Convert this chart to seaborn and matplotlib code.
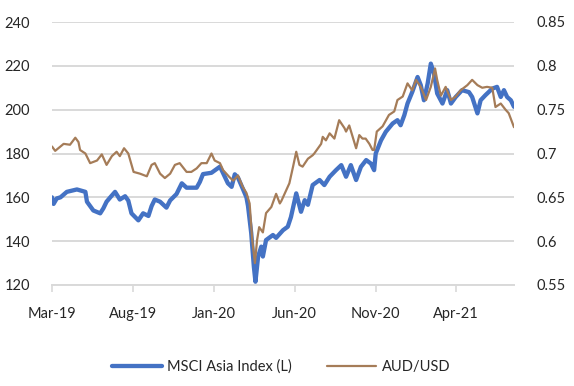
import matplotlib
matplotlib.use("Agg")
import matplotlib.pyplot as plt
import matplotlib.dates as mdates
from matplotlib.ticker import MultipleLocator, FuncFormatter
import pandas as pd
import seaborn as sns

# MSCI Asia Index (left axis)
msci_dates = [
    "2019-03-01", "2019-03-04", "2019-03-10", "2019-03-17", "2019-03-29", "2019-04-17", "2019-05-03",
    "2019-05-06", "2019-05-18", "2019-05-31", "2019-06-06", "2019-06-12", "2019-06-19",
    "2019-06-28", "2019-07-07", "2019-07-17", "2019-07-23", "2019-07-29", "2019-08-11",
    "2019-08-20", "2019-08-30", "2019-09-05", "2019-09-11", "2019-09-21", "2019-10-03",
    "2019-10-10", "2019-10-22", "2019-11-01", "2019-11-10", "2019-11-29", "2019-12-05",
    "2019-12-11", "2019-12-27", "2020-01-12", "2020-01-18", "2020-01-27", "2020-02-03",
    "2020-02-09", "2020-02-15", "2020-02-24", "2020-03-02", "2020-03-05", "2020-03-11",
    "2020-03-16", "2020-03-19", "2020-03-24", "2020-03-30", "2020-04-02", "2020-04-08",
    "2020-04-21", "2020-04-27", "2020-05-10", "2020-05-19", "2020-05-25", "2020-06-04",
    "2020-06-13", "2020-06-20", "2020-06-26", "2020-07-05", "2020-07-18", "2020-07-27",
    "2020-08-06", "2020-08-18", "2020-08-28", "2020-09-06", "2020-09-15", "2020-09-25",
    "2020-10-04", "2020-10-14", "2020-10-23", "2020-10-29", "2020-11-01", "2020-11-11",
    "2020-11-20", "2020-12-03", "2020-12-12", "2020-12-18", "2020-12-25", "2020-12-31",
    "2021-01-09", "2021-01-19", "2021-01-25", "2021-01-31", "2021-02-07", "2021-02-13",
    "2021-02-19", "2021-02-25", "2021-03-07", "2021-03-16", "2021-03-23", "2021-04-01",
    "2021-04-13", "2021-04-26", "2021-05-02", "2021-05-12", "2021-05-18", "2021-05-27",
    "2021-06-09", "2021-06-18", "2021-06-25", "2021-07-01", "2021-07-07", "2021-07-14",
    "2021-07-20",
]
msci_values = [
    160, 157, 159.5, 160, 162.5, 163.6, 162.5,
    158, 154, 152.7, 155, 158, 160,
    162.5, 159, 160.5, 158.5, 152.7, 149.5,
    152.7, 151.5, 156, 159, 158, 155.3,
    158.6, 161.5, 166.4, 164.4, 164.4, 167,
    170.6, 171.2, 174, 171, 166.4, 164.8,
    170.5, 169, 164, 160, 156, 143.7,
    128.4, 121.5, 133, 137.5, 133, 140.5,
    142.8, 141.5, 145, 146.6, 151, 161.8,
    153.4, 158.7, 156.6, 165.6, 167.9, 165.6,
    169.4, 172.4, 174.7, 169.4, 174.7, 167.9,
    173.9, 177, 175.4, 172.4, 180, 186,
    189.9, 193.7, 195.2, 192.9, 197.5, 202.8,
    208.1, 214.9, 211.2, 204.3, 211.9, 221,
    216.5, 207.4, 202.8, 208.9, 202.8, 205.8,
    208.9, 208, 205.8, 198.3, 204.3, 206.6,
    209.6, 210.4, 205.8, 208.9, 205.8, 204.3,
    201.3,
]

# AUD/USD (right axis)
aud_dates = [
    "2019-03-01", "2019-03-07", "2019-03-23", "2019-04-04", "2019-04-14", "2019-04-20",
    "2019-04-23", "2019-05-03", "2019-05-12", "2019-05-25", "2019-06-03", "2019-06-12",
    "2019-06-22", "2019-07-01", "2019-07-07", "2019-07-15", "2019-07-23", "2019-08-02",
    "2019-08-14", "2019-08-27", "2019-09-05", "2019-09-11", "2019-09-21", "2019-09-30",
    "2019-10-10", "2019-10-19", "2019-10-28", "2019-11-10", "2019-11-19", "2019-11-29",
    "2019-12-08", "2019-12-18", "2019-12-27", "2020-01-02", "2020-01-12", "2020-01-18",
    "2020-01-30", "2020-02-06", "2020-02-15", "2020-02-24", "2020-03-02", "2020-03-08",
    "2020-03-13", "2020-03-18", "2020-03-22", "2020-03-26", "2020-04-02", "2020-04-08",
    "2020-04-18", "2020-04-27", "2020-05-04", "2020-05-07", "2020-05-16", "2020-05-22",
    "2020-05-29", "2020-06-04", "2020-06-10", "2020-06-16", "2020-06-26", "2020-07-05",
    "2020-07-08", "2020-07-21", "2020-07-24", "2020-07-30", "2020-08-06", "2020-08-15",
    "2020-08-24", "2020-09-03", "2020-09-06", "2020-09-12", "2020-09-25", "2020-10-01",
    "2020-10-07", "2020-10-13", "2020-10-20", "2020-10-26", "2020-10-29",
    "2020-11-03", "2020-11-14", "2020-11-26", "2020-12-06", "2020-12-12", "2020-12-22",
    "2020-12-31", "2021-01-09", "2021-01-16", "2021-01-25", "2021-02-04", "2021-02-13",
    "2021-02-21", "2021-02-25", "2021-03-04", "2021-03-13", "2021-03-23", "2021-04-01",
    "2021-04-10", "2021-04-23", "2021-05-02", "2021-05-12", "2021-05-21", "2021-05-30",
    "2021-06-09", "2021-06-15", "2021-06-25", "2021-07-04", "2021-07-10", "2021-07-20",
]
aud_values = [
    0.708, 0.703, 0.711, 0.710, 0.718, 0.713,
    0.704, 0.700, 0.689, 0.692, 0.699, 0.687,
    0.697, 0.702, 0.697, 0.706, 0.700, 0.679,
    0.677, 0.674, 0.687, 0.689, 0.677, 0.672,
    0.677, 0.687, 0.689, 0.679, 0.679, 0.683,
    0.689, 0.689, 0.700, 0.692, 0.689, 0.681,
    0.673, 0.669, 0.675, 0.662, 0.655, 0.643,
    0.601, 0.575, 0.601, 0.616, 0.610, 0.632,
    0.639, 0.654, 0.643, 0.646, 0.658, 0.666,
    0.685, 0.702, 0.687, 0.685, 0.694, 0.698,
    0.700, 0.711, 0.719, 0.715, 0.723, 0.717,
    0.738, 0.729, 0.725, 0.732, 0.706, 0.721,
    0.717, 0.717, 0.711, 0.704, 0.704,
    0.725, 0.731, 0.744, 0.748, 0.761, 0.765,
    0.780, 0.772, 0.784, 0.776, 0.761, 0.776,
    0.797, 0.784, 0.766, 0.776, 0.761, 0.765,
    0.772, 0.778, 0.784, 0.778, 0.775, 0.776,
    0.775, 0.753, 0.757, 0.750, 0.746, 0.730,
]

tick_dates = ["2019-03-01", "2019-08-01", "2020-01-01", "2020-06-01", "2020-11-01", "2021-04-01"]

msci_df = pd.DataFrame({"date": pd.to_datetime(msci_dates), "value": msci_values})
aud_df = pd.DataFrame({"date": pd.to_datetime(aud_dates), "value": aud_values})

sns.set_style("white")
plt.rcParams["font.family"] = ["Lato", "DejaVu Sans"]

blue = "#4472C4"
brown = "#A57C58"
grid_col = "#D9D9D9"
txt_col = "#262626"

fig = plt.figure(figsize=(5.74, 3.86), dpi=100)
ax1 = fig.add_axes([52 / 574, 101 / 386, 462 / 574, 263 / 386])
ax2 = ax1.twinx()

sns.lineplot(data=msci_df, x="date", y="value", ax=ax1, color=blue, linewidth=3.1,
             label="MSCI Asia Index (L)", legend=False)
sns.lineplot(data=aud_df, x="date", y="value", ax=ax2, color=brown, linewidth=1.6,
             label="AUD/USD", legend=False)

ax1.set_xlim(pd.Timestamp("2019-03-01"), pd.Timestamp("2021-07-20"))
ax1.set_ylim(120, 240)
ax2.set_ylim(0.55, 0.85)
ax1.yaxis.set_major_locator(MultipleLocator(20))
ax2.yaxis.set_major_locator(MultipleLocator(0.05))
ax2.yaxis.set_major_formatter(FuncFormatter(lambda v, p: "%g" % round(v, 2)))

ax1.set_xticks(pd.to_datetime(tick_dates))
ax1.xaxis.set_major_formatter(mdates.DateFormatter("%b-%y"))

ax1.grid(axis="y", color=grid_col, linewidth=1.4)
ax1.set_axisbelow(True)
ax2.grid(False)

for ax in (ax1, ax2):
    ax.set_xlabel("")
    ax.set_ylabel("")
    for s in ax.spines.values():
        s.set_visible(False)
ax1.spines["bottom"].set_visible(True)
ax1.spines["bottom"].set_color(grid_col)
ax1.spines["bottom"].set_linewidth(1.4)

ax1.tick_params(axis="x", length=5, width=1.2, color=grid_col, pad=11,
                labelsize=10.5, labelcolor=txt_col, direction="out", bottom=True)
ax1.tick_params(axis="y", length=0, pad=16, labelsize=10.5, labelcolor=txt_col)
ax2.tick_params(axis="y", length=0, pad=16, labelsize=10.5, labelcolor=txt_col)

h1, l1 = ax1.get_legend_handles_labels()
h2, l2 = ax2.get_legend_handles_labels()
fig.legend(h1 + h2, l1 + l2, loc="center", bbox_to_anchor=(0.49, 19 / 386), ncol=2,
           frameon=False, fontsize=10.5, handlelength=3.4, handletextpad=0.35,
           columnspacing=2.4, labelcolor=txt_col)

fig.savefig("out.png", dpi=100)
